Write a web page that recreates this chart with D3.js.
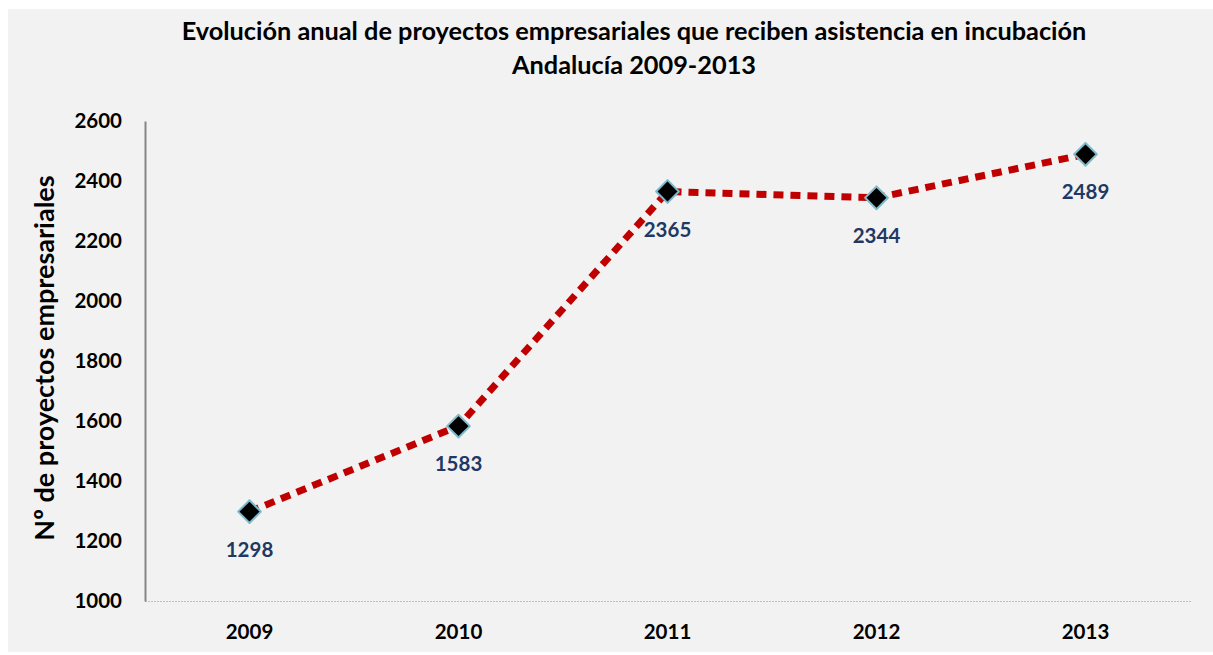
<!DOCTYPE html>
<html>
<head>
<meta charset="utf-8">
<script src="https://cdn.jsdelivr.net/npm/d3@7"></script>
<style>
  body { margin: 0; background: #ffffff; }
  svg { display: block; }
  text { font-family: Lato, "Open Sans", sans-serif; }
</style>
</head>
<body>
<svg width="1213" height="655"></svg>
<script>
var years = ["2009", "2010", "2011", "2012", "2013"];
var projects = [1298, 1583, 2365, 2344, 2489];
var yTicks = [1000, 1200, 1400, 1600, 1800, 2000, 2200, 2400, 2600];

var svg = d3.select("svg");

// chart background
svg.append("rect")
    .attr("x", 8).attr("y", 9)
    .attr("width", 1205).attr("height", 643)
    .attr("fill", "#f2f2f2");

var plotLeft = 145, plotRight = 1190, plotTop = 121, plotBottom = 601;

var xscale = d3.scaleBand().domain(years).range([plotLeft, plotRight]);
var yscale = d3.scaleLinear().domain([1000, 2600]).range([plotBottom, plotTop]);

// title
var title = svg.append("text")
    .attr("text-anchor", "middle")
    .attr("font-size", 25.3)
    .attr("font-weight", "bold")
    .attr("fill", "#000");
title.append("tspan").attr("x", 634).attr("y", 40)
    .text("Evolución anual de proyectos empresariales que reciben asistencia en incubación");
title.append("tspan").attr("x", 634).attr("y", 74)
    .text("Andalucía 2009-2013");

// y axis
var yAxis = svg.append("g")
    .attr("transform", "translate(" + plotLeft + ",0)")
    .call(d3.axisLeft(yscale).tickValues(yTicks).tickSize(0).tickPadding(23).tickFormat(d3.format("d")));
yAxis.select(".domain").attr("stroke", "#868686").attr("stroke-width", 2);
yAxis.selectAll("text")
    .attr("font-size", 20.5)
    .attr("font-weight", "bold")
    .attr("fill", "#000")
    .style("font-family", "Lato, 'Open Sans', sans-serif");

// x axis (dotted baseline)
var xAxis = svg.append("g")
    .attr("transform", "translate(0," + plotBottom + ")")
    .call(d3.axisBottom(xscale).tickSize(0).tickPadding(23));
xAxis.select(".domain")
    .attr("stroke", "#8c8c8c")
    .attr("stroke-width", 1)
    .attr("stroke-dasharray", "1,2");
xAxis.selectAll("text")
    .attr("font-size", 20.5)
    .attr("font-weight", "bold")
    .attr("fill", "#000")
    .style("font-family", "Lato, 'Open Sans', sans-serif");

// y axis label
svg.append("text")
    .attr("transform", "translate(54,358) rotate(-90)")
    .attr("text-anchor", "middle")
    .attr("font-size", 27)
    .attr("font-weight", "bold")
    .attr("fill", "#000")
    .text("Nº de proyectos empresariales");

var cx = function(d, i) { return xscale(years[i]) + xscale.bandwidth() / 2; };

// dotted red line
var line = d3.line()
    .x(function(d, i) { return cx(d, i); })
    .y(function(d) { return yscale(d); });

svg.append("path")
    .datum(projects)
    .attr("d", line)
    .attr("fill", "none")
    .attr("stroke", "#c00000")
    .attr("stroke-width", 7)
    .attr("stroke-dasharray", "10,7");

// diamond markers
svg.selectAll(".marker")
    .data(projects)
    .enter().append("path")
    .attr("class", "marker")
    .attr("d", d3.symbol().type(d3.symbolDiamond2).size(330))
    .attr("transform", function(d, i) { return "translate(" + cx(d, i) + "," + yscale(d) + ")"; })
    .attr("fill", "#000")
    .attr("stroke", "#7fb9cc")
    .attr("stroke-width", 2)
    .attr("stroke-linejoin", "round");

// data labels
svg.selectAll(".label")
    .data(projects)
    .enter().append("text")
    .attr("class", "label")
    .attr("x", function(d, i) { return cx(d, i); })
    .attr("y", function(d) { return yscale(d) + 45; })
    .attr("text-anchor", "middle")
    .attr("font-size", 20.5)
    .attr("font-weight", "bold")
    .attr("fill", "#1f3864")
    .text(function(d) { return d; });
</script>
</body>
</html>
